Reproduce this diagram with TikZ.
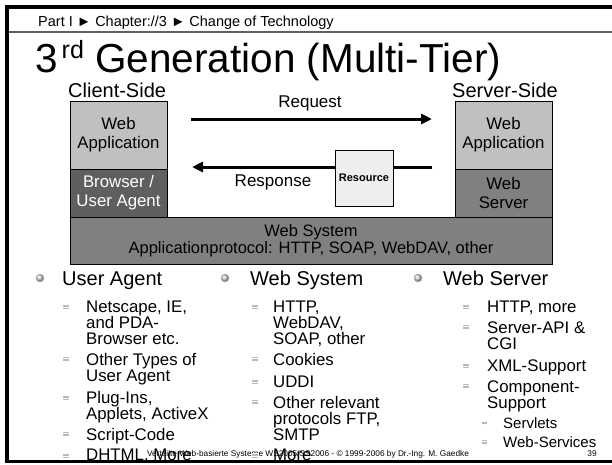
\documentclass[tikz,border=0pt]{standalone}
\usepackage{fontspec}
\setmainfont{Liberation Sans}
\usetikzlibrary{arrows.meta}
\definecolor{appgray}{HTML}{C0C0C0}
\definecolor{agentgray}{HTML}{5F5F5F}
\definecolor{servgray}{HTML}{808080}
\definecolor{resgray}{HTML}{EEEEEE}
\definecolor{rulegray}{HTML}{606060}
\begin{document}
\begin{tikzpicture}[x=1pt,y=-1pt,
  box/.style={draw=black, line width=0.8pt, inner sep=0pt, align=center,
    font=\fontsize{16.8}{19}\selectfont},
  appbox/.style={box, fill=appgray, minimum width=97pt, minimum height=68pt},
  lowbox/.style={box, minimum width=97pt, minimum height=48pt},
  label/.style={font=\fontsize{17}{19}\selectfont, anchor=base, inner sep=0pt},
  flow/.style={line width=3pt, -{Triangle[length=11pt,width=10pt]}},
  headA/.style={font=\fontsize{20}{22}\selectfont, anchor=base west, inner sep=0pt},
  % multi-line items are placed by the baseline of their last line
  itemB/.style={font=\fontsize{16.8}{16}\selectfont, align=left, anchor=base west, inner sep=0pt},
  itemC/.style={font=\fontsize{15}{15}\selectfont, anchor=base west, inner sep=0pt},
  dotA/.style={circle, inner sep=0pt, minimum size=8pt, ball color=gray!35, draw=gray!60, line width=0.3pt},
  dotB/.style={rectangle, inner sep=0pt, minimum width=6pt, minimum height=5pt, fill=gray!55,
    path picture={\draw[white, line width=0.6pt]
      ([yshift=-1.7pt]path picture bounding box.west) -- ([yshift=-1.7pt]path picture bounding box.east)
      ([yshift=1.7pt]path picture bounding box.west) -- ([yshift=1.7pt]path picture bounding box.east);}},
  dotC/.style={dotB, minimum width=5pt, minimum height=4.5pt}
]
\useasboundingbox (0,0) rectangle (612,464);
\fill[white] (0,0) rectangle (612,464);

% slide frame and header rule
\fill[black] (5,5) rectangle (612,9);
\fill[black] (5,5) rectangle (9,462);
\fill[black] (5,459.5) rectangle (612,462.5);
\draw[rulegray, line width=1.5pt] (9,32) -- (612,32);

% breadcrumb and title
\node[anchor=base west, inner sep=0pt, font=\fontsize{14.5}{16}\selectfont] (crumb) at (38,26)
  {Part I ► Chapter://3 ► Change of Technology};
\node[anchor=base west, inner sep=0pt, font=\fontsize{40.5}{42}\selectfont] (title) at (35,72)
  {3\hspace{4pt}\raisebox{14pt}{\fontsize{25}{25}\selectfont rd} Generation (Multi-Tier)};

% client and server stacks
\node[headA] (client) at (68,97) {Client-Side};
\node[headA] (server) at (452,97) {Server-Side};
\node[appbox] (cwa) at (118.5,135) {Web\\Application};
\node[lowbox, fill=agentgray, text=white] (agent) at (118.5,193) {Browser /\\User Agent};
\node[appbox] (swa) at (503.5,135) {Web\\Application};
\node[lowbox, fill=servgray] (wserv) at (503.5,193) {Web\\Server};
\node[box, fill=servgray, minimum width=482pt, minimum height=47pt,
  font=\fontsize{16.5}{17}\selectfont] (wsys) at (311,240.5)
  {Web System\\Applicationprotocol: HTTP, SOAP, WebDAV, other};

% request / response
\coordinate (reqS) at (191,119);
\coordinate (reqE) at (432,119);
\coordinate (rspS) at (432,167);
\coordinate (rspE) at (192,167);
\node[label] (req) at (310,107) {Request};
\node[label] (rsp) at (273,186) {Response};
\draw[flow] (reqS) -- (reqE);
\node[draw=black, line width=0.8pt, fill=resgray, minimum width=58pt, minimum height=56pt,
  inner sep=0pt, font=\fontsize{11}{12}\selectfont\bfseries] (res) at (364,178) {Resource};
\draw[line width=3pt] (rspS) -- (res.east |- rspS);
\draw[flow] (res.west |- rspS) -- (rspE);

% footer
\node[anchor=base, inner sep=0pt, font=\fontsize{8.3}{9}\selectfont] (foot) at (308,456)
  {Verteilte Web-basierte Systeme WS2005/SS2006 - © 1999-2006 by Dr.-Ing. M. Gaedke};
\node[anchor=base, inner sep=0pt, font=\fontsize{8.3}{9}\selectfont] (page) at (592,456.5) {39};

% column 1: user agent
\node[dotA] (a0) at (40,278) {};
\node[headA] (ah) at (62,285) {User Agent};
\node[dotB] (a1) at (66,306) {};
\node[itemB] (a1t) at (86,344) {Netscape, IE,\\and PDA-\\Browser etc.};
\node[dotB] (a2) at (66,359.5) {};
\node[itemB] (a2t) at (86,381.5) {Other Types of\\User Agent};
\node[dotB] (a3) at (66,397) {};
\node[itemB] (a3t) at (86,419) {Plug-Ins,\\Applets, ActiveX};
\node[dotB] (a4) at (66,434.5) {};
\node[itemB] (a4t) at (86,440.5) {Script-Code};
\node[dotB] (a5) at (66,455) {};
\node[itemB] (a5t) at (86,460.5) {DHTML, More};

% column 2: web system
\node[dotA] (b0) at (225,278) {};
\node[headA] (bh) at (250,285) {Web System};
\node[dotB] (b1) at (255,306) {};
\node[itemB] (b1t) at (273,344) {HTTP,\\WebDAV,\\SOAP, other};
\node[dotB] (b2) at (255,359.5) {};
\node[itemB] (b2t) at (273,365.5) {Cookies};
\node[dotB] (b3) at (255,381) {};
\node[itemB] (b3t) at (273,387) {UDDI};
\node[dotB] (b4) at (255,402.5) {};
\node[itemB] (b4t) at (273,440.5) {Other relevant\\protocols FTP,\\SMTP};
\node[dotB] (b5) at (255,455) {};
\node[itemB] (b5t) at (273,460.5) {More};

% column 3: web server
\node[dotA] (c0) at (418,278) {};
\node[headA] (ch) at (443,285) {Web Server};
\node[dotB] (c1) at (466,306) {};
\node[itemB] (c1t) at (487,312) {HTTP, more};
\node[dotB] (c2) at (466,327.5) {};
\node[itemB] (c2t) at (487,349.5) {Server-API \&\\CGI};
\node[dotB] (c3) at (466,365) {};
\node[itemB] (c3t) at (487,371) {XML-Support};
\node[dotB] (c4) at (466,386.5) {};
\node[itemB] (c4t) at (487,408.5) {Component-\\Support};
\node[dotC] (c5) at (484,423) {};
\node[itemC] (c5t) at (503,428) {Servlets};
\node[dotC] (c6) at (484,442.5) {};
\node[itemC] (c6t) at (503,447.5) {Web-Services};
\end{tikzpicture}
\end{document}
